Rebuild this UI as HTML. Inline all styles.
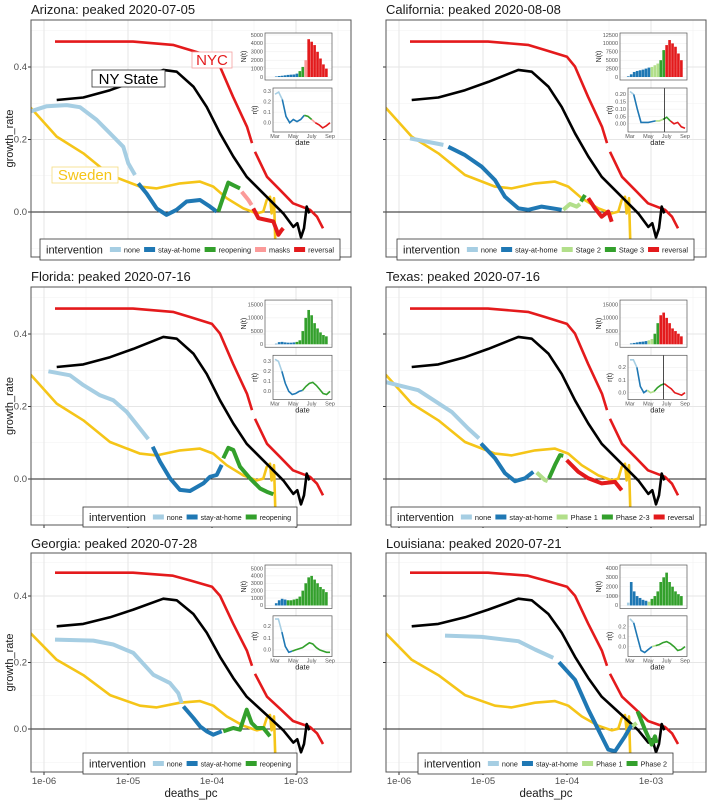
<!DOCTYPE html>
<html><head><meta charset="utf-8"><style>
body{margin:0;background:#fff;}
svg{display:block;font-family:"Liberation Sans",sans-serif;}
</style></head><body>
<svg id="c" width="711" height="800" viewBox="0 0 711 800"></svg>
<script>
// ---------- common reference series (log10 deaths_pc, growth_rate) ----------
const nycX=[-5.869,-4.94,-4.464,-4.262,-4.0,-3.905,-3.75,-3.583,-3.524,null,-3.488,-3.345,-3.19,-3.036,-2.833,-2.75,-2.679];
const nycY=[0.47,0.47,0.461,0.447,0.428,0.401,0.318,0.235,0.19,null,0.166,0.097,0.061,0.024,0.006,-0.013,-0.045];
const nyX=[-5.849,-5.532,-5.214,-4.937,-4.58,-4.42,-4.222,-4.063,-3.905,-3.746,-3.587,-3.349,-3.151,-3.032,-2.985,-2.94,-2.905,-2.873,-2.842];
const nyY=[0.309,0.316,0.336,0.359,0.392,0.387,0.346,0.29,0.217,0.153,0.097,0.042,-0.004,-0.041,-0.031,-0.07,-0.045,0.015,-0.004];
const sweX=[-6.167,-5.849,-5.532,-5.214,-4.857,-4.658,-4.381,-4.143,-3.984,-3.825,-3.627,-3.468,-3.389,-3.349,-3.31,-3.29,-3.262,-3.238];
const sweY=[0.29,0.208,0.162,0.102,0.07,0.065,0.079,0.084,0.07,0.038,0.01,-0.004,0.001,0.033,0.042,-0.004,0.038,-0.15];
// ---------- state series: segments ----------
const azG=['none','stay','reopen','masks','reversal'];
const azX=[[-6.167,-5.968,-5.73,-5.571,-5.373,-5.175,-5.056,-4.996,-4.917],[-4.877,-4.778,-4.659,-4.54,-4.421,-4.302,-4.143,-4.024,-3.944],[-3.925,-3.865,-3.806,-3.746,-3.667],[-3.647,-3.567,-3.528],[-3.508,-3.448,-3.349,-3.27,-3.21,-3.171,-3.151]];
const azY=[[0.277,0.292,0.295,0.289,0.254,0.208,0.18,0.134,0.102],[0.079,0.051,0.01,-0.008,0.006,0.029,0.033,0.015,0.001],[0.001,0.042,0.081,0.074,0.065],[0.056,0.033,0.019],[0.01,-0.017,-0.022,-0.026,-0.063,-0.05,-0.045]];
const caG=['none','stay','s2','s3','reversal'];
const caX=[[-5.869,-5.472],[-5.413,-5.214,-5.016,-4.857,-4.738,-4.579,-4.46,-4.302,-4.063],[-4.044,-3.964,-3.885,-3.845],[-3.833,-3.786],[-3.746,-3.667,-3.587,-3.508,-3.468]];
const caY=[[0.203,0.185],[0.18,0.157,0.125,0.088,0.042,0.01,0.006,0.015,0.006],[0.006,0.022,0.015,0.022],[0.029,0.047],[0.038,0.01,-0.013,0.001,-0.027]];
const flG=['none','stay','reopen'];
const flX=[[-5.948,-5.69,-5.532,-5.333,-5.175,-5.016,-4.857,-4.758],[-4.706,-4.619,-4.5,-4.381,-4.262,-4.103,-4.024,-3.944,-3.885],[-3.865,-3.806,-3.746,-3.667,-3.548,-3.429,-3.349,-3.27]];
const flY=[[0.297,0.286,0.259,0.231,0.217,0.185,0.139,0.11],[0.089,0.048,0.002,-0.03,-0.033,-0.012,0.006,0.011,0.039],[0.057,0.086,0.08,0.034,0.002,-0.026,-0.035,-0.042]];
const txG=['none','stay','s2','s3','reversal'];
const txX=[[-6.167,-5.77,-5.373,-5.175,-5.048],[-5.024,-4.857,-4.738,-4.619,-4.5,-4.401],[-4.361,-4.262,-4.23],[-4.214,-4.143,-4.083,-4.044],[-4.004,-3.865,-3.746,-3.587,-3.429,-3.349]];
const txY=[[0.268,0.245,0.185,0.139,0.112],[0.098,0.057,0.016,-0.006,0.002,0.02],[0.018,-0.003,-0.006],[0.002,0.039,0.066,0.064],[0.052,0.02,0.002,-0.012,-0.008,-0.031]];
const gaG=['none','stay','reopen'];
const gaX=[[-5.869,-5.413,-5.175,-4.937,-4.698,-4.5,-4.401,-4.361],[-4.341,-4.222,-4.143,-4.063,-3.984,-3.885],[-3.865,-3.746,-3.667,-3.587,-3.528,-3.468,-3.389,-3.31]];
const gaY=[[0.269,0.266,0.254,0.229,0.163,0.138,0.108,0.078],[0.068,0.033,0.008,-0.007,-0.017,-0.007],[-0.007,0.003,-0.002,0.058,0.018,0.003,0.003,-0.022]];
const laG=['none','stay','s2','s3'];
const laX=[[-5.452,-5.016,-4.579,-4.381,-4.163],[-4.095,-3.905,-3.746,-3.627,-3.508,-3.429,-3.31,-3.23],[-3.222,-3.171],[-3.159,-3.071,-2.992,-2.952,-2.933]];
const laY=[[0.281,0.277,0.264,0.239,0.214],[0.201,0.148,0.058,-0.002,-0.062,-0.067,-0.022,0.013],[0.008,0.018],[0.053,-0.002,-0.047,-0.022,-0.042]];
// ---------- inset data ----------
const azN=[0,0,60,120,150,200,250,280,300,400,700,1200,2000,4500,4200,3800,3000,2200,1500,1000];
const azNc=[2,8,2,1,7];
const azR=[0.27,0.29,0.22,0.06,0.0,0.03,0.01,0.03,0.07,0.06,0.03,0.0,-0.02,-0.05,-0.03,0.0];
const azRc=[3,6,2,1,4];
const caN=[0,200,800,1500,1800,2000,2200,2500,2800,3000,3500,4000,5000,8000,9500,11000,10000,9000,7000,5000];
const caNc=[1,8,3,2,6];
const caR=[0.22,0.2,0.1,0.01,0.01,0.01,0.015,0.02,0.02,0.03,0.045,0.02,0.0,0.01,-0.02,-0.03];
const caRc=[2,6,2,2,4];
const flN=[0,0,200,800,900,700,600,600,700,900,1500,5000,10000,13000,11000,8000,6000,4500,3500,3000];
const flNc=[2,7,11];
const flR=[0.32,0.3,0.2,0.08,0.0,-0.03,-0.02,0.0,0.01,0.05,0.08,0.09,0.06,0.02,-0.02,-0.03,0.0];
const flRc=[3,6,8];
const txN=[0,0,300,500,700,900,1000,1200,1500,2000,4000,8000,11000,12000,10000,8000,6000,5000,4000,3000];
const txNc=[2,6,2,2,8];
const txR=[0.26,0.26,0.2,0.05,0.0,0.02,0.0,0.01,0.04,0.06,0.07,0.05,0.03,0.0,-0.01,-0.02,0.0];
const txRc=[3,3,2,3,6];
const gaN=[0,0,300,700,900,800,700,700,800,900,1200,2000,3000,3800,4000,3500,3000,2500,2200,1800];
const gaNc=[2,4,14];
const gaR=[0.26,0.26,0.15,0.03,-0.02,-0.01,0.0,0.01,0.02,0.04,0.06,0.05,0.02,0.0,-0.01,-0.02,-0.02];
const gaRc=[3,3,11];
const laN=[0,300,2500,1500,1000,800,600,500,400,700,1000,1500,2500,3000,3500,2500,2000,1500,1200,1000];
const laNc=[2,6,1,11];
const laR=[0.28,0.24,0.1,-0.04,-0.06,-0.03,0.0,0.01,0.02,0.04,0.05,0.03,0.0,-0.04,-0.03,0.0];
const laRc=[2,5,1,8];
const xTickVals=[-6,-5,-4,-3];
const xTickLabels=['1e-06','1e-05','1e-04','1e-03'];
const yTickVals=[0,0.2,0.4];
const yTickLabels=['0.0','0.2','0.4'];

const COL={none:'#a6cee3',stay:'#1f78b4',reopen:'#33a02c',masks:'#fb9a99',reversal:'#e31a1c',s2:'#b2df8a',s3:'#33a02c'};
const ROWS=[{top:20,bot:257,y0:212,k:362.5,ly:239,lh:21,t:14},{top:287,bot:525,y0:479,k:362.5,ly:507,lh:20,t:281},{top:553,bot:772,y0:729,k:332.5,ly:753,lh:21,t:548}];
const COLS=[{l:31,r:351,off:0},{l:386,r:706,off:355}];
const PANELS=[
 {name:'arizona',title:'Arizona: peaked 2020-07-05',r:0,c:0,X:azX,Y:azY,G:azG,N:azN,Nc:azNc,R:azR,Rc:azRc,nMax:5000,nT:[0,1000,2000,3000,4000,5000],rMin:-0.06,rMax:0.31,rT:[0,0.1,0.2,0.3],rF:1,leg:[40,340],legL:['none','stay-at-home','reopening','masks','reversal'],labels:true},
 {name:'california',title:'California: peaked 2020-08-08',r:0,c:1,X:caX,Y:caY,G:caG,N:caN,Nc:caNc,R:caR,Rc:caRc,nMax:12500,nT:[0,2500,5000,7500,10000,12500],rMin:-0.035,rMax:0.23,rT:[0,0.05,0.1,0.15,0.2],rF:2,leg:[397,694],legL:['none','stay-at-home','Stage 2','Stage 3','reversal'],vline:0.62},
 {name:'florida',title:'Florida: peaked 2020-07-16',r:1,c:0,X:flX,Y:flY,G:flG,N:flN,Nc:flNc,R:flR,Rc:flRc,nMax:16000,nT:[0,5000,10000,15000],rMin:-0.05,rMax:0.34,rT:[0,0.1,0.2,0.3],rF:1,leg:[83,297],legL:['none','stay-at-home','reopening']},
 {name:'texas',title:'Texas: peaked 2020-07-16',r:1,c:1,X:txX,Y:txY,G:txG,N:txN,Nc:txNc,R:txR,Rc:txRc,nMax:16000,nT:[0,5000,10000,15000],rMin:-0.03,rMax:0.28,rT:[0,0.1,0.2],rF:1,leg:[391,700],legL:['none','stay-at-home','Phase 1','Phase 2-3','reversal'],vline:0.6},
 {name:'georgia',title:'Georgia: peaked 2020-07-28',r:2,c:0,X:gaX,Y:gaY,G:gaG,N:gaN,Nc:gaNc,R:gaR,Rc:gaRc,nMax:5200,nT:[0,1000,2000,3000,4000,5000],rMin:-0.03,rMax:0.27,rT:[0,0.1,0.2],rF:1,leg:[83,297],legL:['none','stay-at-home','reopening']},
 {name:'louisiana',title:'Louisiana: peaked 2020-07-21',r:2,c:1,X:laX,Y:laY,G:laG,N:laN,Nc:laNc,R:laR,Rc:laRc,nMax:4100,nT:[0,1000,2000,3000,4000],rMin:-0.07,rMax:0.29,rT:[0,0.1,0.2],rF:1,leg:[418,673],legL:['none','stay-at-home','Phase 1','Phase 2']}
];
const svg=document.getElementById('c');
const NS='http://www.w3.org/2000/svg';
function mk(tag,attrs,parent){const e=document.createElementNS(NS,tag);for(const k in attrs)e.setAttribute(k,attrs[k]);(parent||svg).appendChild(e);return e;}
function pathD(xs,ys,fx,fy){let d='',pen=false;for(let i=0;i<xs.length;i++){if(xs[i]===null){pen=false;continue;}d+=(pen?'L':'M')+fx(xs[i]).toFixed(1)+' '+fy(ys[i]).toFixed(1);pen=true;}return d;}

PANELS.forEach(P=>{
 const R=ROWS[P.r],C=COLS[P.c];
 const g=mk('g',{});
 
 
 const xs=v=>44+C.off+(v+6)*84, ys=v=>R.y0-v*R.k;
 const cid='clip'+P.name;
 const cp=mk('clipPath',{id:cid},g);mk('rect',{x:C.l,y:R.top,width:C.r-C.l,height:R.bot-R.top},cp);
 const t=mk('text',{x:C.l,y:R.t,'font-size':13,fill:'#1a1a1a'},g);t.textContent=P.title;
 
 
 [-6.5,-5.5,-4.5,-3.5,-2.5].forEach(v=>{const x=xs(v);if(x>C.l&&x<C.r)mk('line',{x1:x,x2:x,y1:R.top,y2:R.bot,stroke:'#f2f2f2','stroke-width':0.6},g);});
 [-0.1,0.1,0.3,0.5].forEach(v=>mk('line',{x1:C.l,x2:C.r,y1:ys(v),y2:ys(v),stroke:'#f2f2f2','stroke-width':0.6},g));
 xTickVals.forEach(v=>mk('line',{x1:xs(v),x2:xs(v),y1:R.top,y2:R.bot,stroke:'#e6e6e6','stroke-width':1},g));
 yTickVals.forEach(v=>mk('line',{x1:C.l,x2:C.r,y1:ys(v),y2:ys(v),stroke:'#e6e6e6','stroke-width':1},g));
 mk('line',{x1:C.l,x2:C.r,y1:ys(0),y2:ys(0),stroke:'#222','stroke-width':1},g);
 yTickVals.forEach((v,i)=>{mk('line',{x1:C.l-3,x2:C.l,y1:ys(v),y2:ys(v),stroke:'#333'},g);
  if(P.c===0){const tt=mk('text',{x:C.l-4,y:ys(v)+3,'font-size':9.5,'text-anchor':'end',fill:'#4d4d4d'},g);tt.textContent=yTickLabels[i];}});
 xTickVals.forEach((v,i)=>{mk('line',{x1:xs(v),x2:xs(v),y1:R.bot,y2:R.bot+3,stroke:'#333'},g);
  if(P.r===2){const tt=mk('text',{x:xs(v),y:R.bot+12,'font-size':9.5,'text-anchor':'middle',fill:'#4d4d4d'},g);tt.textContent=xTickLabels[i];}});
 const lg=mk('g',{'clip-path':'url(#'+cid+')'},g);
 const s1=mk('path',{d:pathD(sweX,sweY,xs,ys),fill:'none',stroke:'#f5c518','stroke-width':2.6,'stroke-linejoin':'round'},lg);
 
 const s2=mk('path',{d:pathD(nycX,nycY,xs,ys),fill:'none',stroke:'#e41a1c','stroke-width':2.6,'stroke-linejoin':'round'},lg);
 
 const s3=mk('path',{d:pathD(nyX,nyY,xs,ys),fill:'none',stroke:'#000','stroke-width':2.6,'stroke-linejoin':'round'},lg);
 
 P.X.forEach((seg,i)=>{const p=mk('path',{d:pathD(seg,P.Y[i],xs,ys),fill:'none',stroke:COL[P.G[i]],'stroke-width':4,'stroke-linejoin':'round','stroke-linecap':'butt'},lg);
  });
 mk('rect',{x:C.l,y:R.top,width:C.r-C.l,height:R.bot-R.top,fill:'none',stroke:'#555','stroke-width':1},g);
 if(P.labels){
  [['NYC',192,52,40,16,'#e41a1c','#f5a0a0'],['NY State',92,70,73,17,'#000','#333'],['Sweden',52,167,66,16,'#f5c518','#f5dc80']].forEach(a=>{
   mk('rect',{x:a[1],y:a[2],width:a[3],height:a[4],fill:'#fff',stroke:a[6],'stroke-width':0.8},g);
   const lt=mk('text',{x:a[1]+a[3]/2,y:a[2]+a[4]-3,'font-size':15,'text-anchor':'middle',fill:a[5]},g);lt.textContent=a[0];
   });
 }
 const s=(R.bot-R.top)/237;
 const nb={x:C.off+265,y:R.top+13*s,w:67,h:47*s}, rb={x:C.off+273,y:R.top+68*s,w:59,h:44*s};
 const ig=mk('g',{},g);
 mk('rect',{x:nb.x,y:nb.y,width:nb.w,height:nb.h,fill:'#fff'},ig);
 P.nT.forEach(v=>{const y=nb.y+nb.h-3-v/P.nMax*(nb.h-5);mk('line',{x1:nb.x,x2:nb.x+nb.w,y1:y,y2:y,stroke:'#ececec','stroke-width':0.5},ig);
  const tt=mk('text',{x:nb.x-2,y:y+1.8,'font-size':5.5,'text-anchor':'end',fill:'#555'},ig);tt.textContent=v;});
 let gi=0,cnt=0;const bw=(nb.w-8)/P.N.length;
 P.N.forEach((v,i)=>{while(cnt>=P.Nc[gi]){cnt-=P.Nc[gi];gi++;}cnt++;const h=v/P.nMax*(nb.h-5);
  mk('rect',{x:nb.x+4+i*bw,y:nb.y+nb.h-3-h,width:bw*0.9,height:h,fill:COL[P.G[gi]]},ig);});
 mk('rect',{x:nb.x,y:nb.y,width:nb.w,height:nb.h,fill:'none',stroke:'#555','stroke-width':0.7},ig);
 const nl=mk('text',{x:0,y:0,'font-size':7,'text-anchor':'middle',fill:'#222',transform:`translate(${nb.x-19},${nb.y+nb.h/2}) rotate(-90)`},ig);nl.textContent='N(t)';
 mk('rect',{x:rb.x,y:rb.y,width:rb.w,height:rb.h,fill:'#fff'},ig);
 const ry=v=>rb.y+rb.h-3-(v-P.rMin)/(P.rMax-P.rMin)*(rb.h-5), rx=i=>rb.x+2+i*(rb.w-4)/(P.R.length-1);
 P.rT.forEach(v=>{mk('line',{x1:rb.x,x2:rb.x+rb.w,y1:ry(v),y2:ry(v),stroke:'#ececec','stroke-width':0.5},ig);
  const tt=mk('text',{x:rb.x-2,y:ry(v)+1.8,'font-size':5.5,'text-anchor':'end',fill:'#555'},ig);tt.textContent=v.toFixed(P.rF);});
 let st=0;P.Rc.forEach((n,k)=>{const xsArr=[],ysArr=[];for(let i=Math.max(0,st-1);i<Math.min(P.R.length,st+n);i++){xsArr.push(i);ysArr.push(P.R[i]);}
  mk('path',{d:pathD(xsArr,ysArr,rx,ry),fill:'none',stroke:COL[P.G[k]],'stroke-width':1.6},ig);st+=n;});
 if(P.vline){const x=rb.x+P.vline*rb.w;mk('line',{x1:x,x2:x,y1:rb.y,y2:rb.y+rb.h,stroke:'#000','stroke-width':0.7},ig);}
 mk('rect',{x:rb.x,y:rb.y,width:rb.w,height:rb.h,fill:'none',stroke:'#555','stroke-width':0.7},ig);
 const rl=mk('text',{x:0,y:0,'font-size':7,'text-anchor':'middle',fill:'#222',transform:`translate(${rb.x-16},${rb.y+rb.h/2}) rotate(-90)`},ig);rl.textContent='r(t)';
 ['Mar','May','July','Sep'].forEach((m,i)=>{const tt=mk('text',{x:rb.x+2+i*(rb.w-4)/3,y:rb.y+rb.h+6,'font-size':5.5,'text-anchor':'middle',fill:'#555'},ig);tt.textContent=m;});
 const dl=mk('text',{x:rb.x+rb.w/2,y:rb.y+rb.h+13,'font-size':7.5,'text-anchor':'middle',fill:'#222'},ig);dl.textContent='date';
 // legend
 const L=mk('g',{},g);
 const lx0=P.leg[0],lx1=P.leg[1];
 mk('rect',{x:lx0,y:R.ly,width:lx1-lx0,height:R.lh,fill:'#fff',stroke:'#333','stroke-width':0.8},L);
 const lt=mk('text',{x:lx0+6,y:R.ly+R.lh/2+4,'font-size':11,fill:'#1a1a1a'},L);lt.textContent='intervention';
 const start=lx0+6+lt.getComputedTextLength()+7;
 let fs=8.5;
 const entries=P.legL.map((lab,i)=>{const e=mk('g',{},L);
  
  
  const r=mk('rect',{y:R.ly+R.lh/2-2.5,width:11,height:5,fill:COL[P.G[i]]},e);
  const tx=mk('text',{y:R.ly+R.lh/2+3,'font-size':fs,fill:'#1a1a1a'},e);tx.textContent=lab;return {r,tx};});
 let tw=entries.reduce((a,e)=>a+e.tx.getComputedTextLength()+14,0);
 let avail=(lx1-6)-start;
 if(tw+4*(entries.length-1)>avail){fs=fs*(avail-4*(entries.length-1)-14*entries.length)/(tw-14*entries.length);entries.forEach(e=>e.tx.setAttribute('font-size',fs.toFixed(2)));tw=entries.reduce((a,e)=>a+e.tx.getComputedTextLength()+14,0);}
 const gap=(avail-tw)/Math.max(1,entries.length-1);
 let cx=start;
 entries.forEach(e=>{e.r.setAttribute('x',cx);e.tx.setAttribute('x',cx+14);cx+=e.tx.getComputedTextLength()+14+gap;});
});
[ROWS[0],ROWS[1],ROWS[2]].forEach(R=>{const t=mk('text',{x:0,y:0,'font-size':11,'text-anchor':'middle',fill:'#1a1a1a',transform:`translate(13,${(R.top+R.bot)/2}) rotate(-90)`});t.textContent='growth_rate';
 });
[0,1].forEach(c=>{const C=COLS[c];const t=mk('text',{x:(C.l+C.r)/2,y:797,'font-size':11.5,'text-anchor':'middle',fill:'#1a1a1a'});t.textContent='deaths_pc';
 });
</script>
</body></html>
